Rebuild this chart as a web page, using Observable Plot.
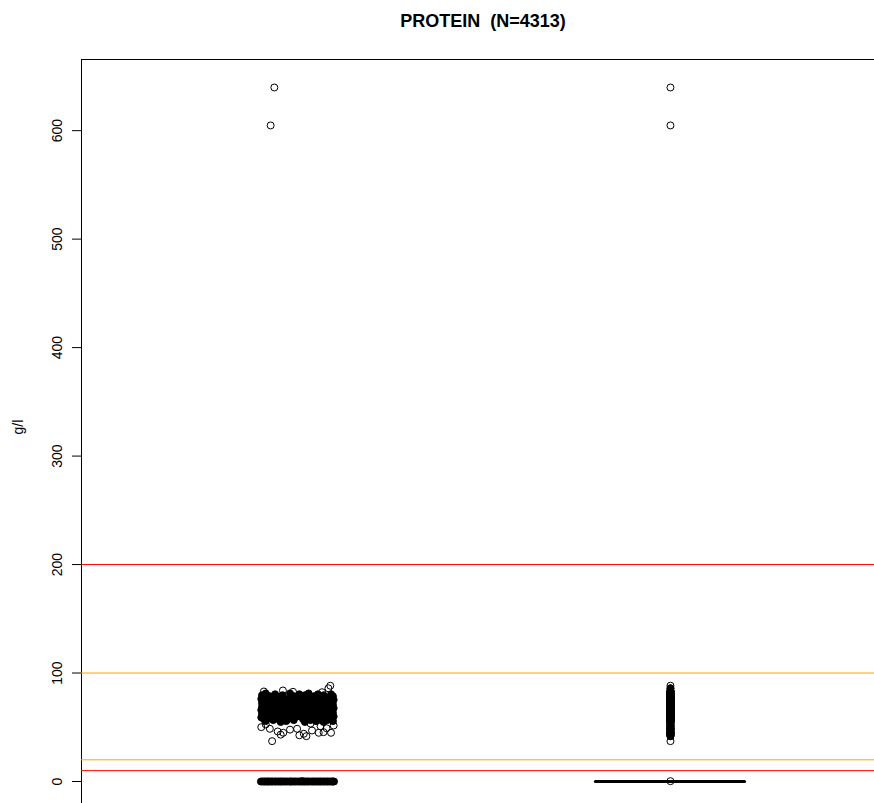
<!DOCTYPE html>
<html>
<head>
<meta charset="utf-8">
<script src="https://cdn.jsdelivr.net/npm/d3@7"></script>
<script src="https://cdn.jsdelivr.net/npm/@observablehq/plot@0.6"></script>
<style>
  html, body { margin: 0; padding: 0; background: #fff; overflow: hidden; }
  #wrap { position: relative; width: 874px; height: 803px; }
  #title { position: absolute; top: 11px; left: 483px; transform: translateX(-50%);
           font: bold 18px "Liberation Sans", Arial, sans-serif; white-space: pre; color: #000; }
</style>
</head>
<body>
<div id="wrap"><div id="title"></div></div>
<script>
// ---------------- data ----------------
const title = "PROTEIN  (N=4313)";
const yLabel = "g/l";
const yTicks = [0, 100, 200, 300, 400, 500, 600];
const redLimits = [10, 200];
const orangeLimits = [20, 100];
const groupPositions = [1, 2];          // 1 = jittered strip, 2 = boxplot
const boxQuartiles = [0, 0, 0];         // q1, median, q3

// jitter offsets of the (many) zero values
const zeroJitter = [-0.098, -0.094, -0.090, -0.087, -0.083, -0.080, -0.077, -0.073, -0.069,
  -0.066, -0.061, -0.058, -0.054, -0.050, -0.046, -0.043, -0.039, -0.035, -0.031, -0.027,
  -0.022, -0.019, -0.016, -0.012, -0.008, -0.004, 0.001, 0.005, 0.009, 0.013, 0.017, 0.020,
  0.024, 0.028, 0.032, 0.037, 0.041, 0.044, 0.048, 0.052, 0.056, 0.060, 0.063, 0.067, 0.071,
  0.075, 0.079, 0.082, 0.086, 0.090, 0.093, 0.096, 0.098];

// dense core: [value g/l, jitter]
const corePoints = [
  [81.2,-0.085],[81.2,-0.020],[81.2,0.030],
  [80.4,-0.060],[80.4,0.005],[80.4,0.055],[80.4,0.090],
  [79.5,-0.095],[79.5,-0.040],[79.5,0.020],[79.5,0.070],
  [78.7,-0.075],[78.7,-0.010],[78.7,0.045],[78.7,0.095],
  [77.8,-0.090],[77.8,-0.050],[77.8,0.000],[77.8,0.060],
  [77.0,-0.065],[77.0,-0.020],[77.0,0.035],[77.0,0.085],
  [76.1,-0.097],[76.1,-0.035],[76.1,0.015],[76.1,0.070],
  [75.3,-0.080],[75.3,-0.005],[75.3,0.050],[75.3,0.097],
  [74.4,-0.055],[74.4,-0.025],[74.4,0.025],[74.4,0.075],
  [73.6,-0.090],[73.6,-0.040],[73.6,0.010],[73.6,0.060],
  [72.7,-0.070],[72.7,0.000],[72.7,0.040],[72.7,0.090],
  [71.9,-0.095],[71.9,-0.030],[71.9,0.020],[71.9,0.065],
  [71.0,-0.060],[71.0,-0.010],[71.0,0.050],[71.0,0.095],
  [70.2,-0.085],[70.2,-0.045],[70.2,0.030],[70.2,0.075],
  [69.3,-0.070],[69.3,-0.020],[69.3,0.010],[69.3,0.055],
  [68.5,-0.095],[68.5,-0.035],[68.5,0.040],[68.5,0.085],
  [67.6,-0.055],[67.6,0.000],[67.6,0.060],[67.6,0.097],
  [66.8,-0.080],[66.8,-0.025],[66.8,0.025],[66.8,0.070],
  [65.9,-0.097],[65.9,-0.045],[65.9,0.015],[65.9,0.050],
  [65.1,-0.065],[65.1,-0.010],[65.1,0.035],[65.1,0.090],
  [64.2,-0.085],[64.2,-0.030],[64.2,0.045],[64.2,0.075],
  [63.4,-0.050],[63.4,0.005],[63.4,0.060],[63.4,0.095],
  [62.5,-0.095],[62.5,-0.040],[62.5,0.020],[62.5,0.065],
  [61.7,-0.070],[61.7,-0.015],[61.7,0.040],[61.7,0.085],
  [60.8,-0.085],[60.8,-0.035],[60.8,0.010],[60.8,0.055],
  [60.0,-0.060],[60.0,0.000],[60.0,0.070],[60.0,0.097],
  [59.1,-0.097],[59.1,-0.045],[59.1,0.030],[59.1,0.080],
  [58.3,-0.075],[58.3,-0.020],[58.3,0.045],[58.3,0.090],
  [57.4,-0.090],[57.4,-0.050],[57.4,0.015],[57.4,0.065],
  [56.6,-0.065],[56.6,-0.010],[56.6,0.035],[56.6,0.080],
  [55.7,-0.085],[55.7,-0.030],[55.7,0.050],[55.7,0.095],
  [54.9,-0.045],[54.9,0.020],[54.9,0.070]
];

// sparse fringe (open circles): [value g/l, jitter]
const fringePoints = [
  [88.3,0.088],[85.9,0.083],[83.9,-0.039],[83.0,-0.090],[82.7,-0.012],[82.3,0.066],
  [53.4,0.035],[52.6,-0.085],[51.6,0.097],[50.9,0.062],[50.1,-0.097],[49.1,0.078],
  [48.6,-0.074],[48.6,-0.001],[47.8,-0.020],[47.0,0.039],[46.1,-0.053],[45.5,0.070],
  [44.9,-0.038],[44.9,0.057],[44.9,0.090],[44.0,0.017],[43.2,-0.045],[42.6,0.005],
  [41.8,0.024],[37.2,-0.068]
];
const highPoints = [[604.8,-0.072],[639.8,-0.062]];
const nearZeroPoints = [[0.3,0.012]];

// ---------------- layout ----------------
const W = 874, H = 803;
const xDomain = [0.421, 2.547];
const yDomain = [-20.28, 665.6];
const boxHalf = 0.2;

document.getElementById("title").textContent = title;

const nonzero = [...corePoints, ...fringePoints, ...highPoints, ...nearZeroPoints];
const val = d => d[0];
const jit = d => groupPositions[0] + d[1];
// in the un-jittered outlier column the stacked circles overplot into a solid band
const ext = d3.extent([...corePoints, ...fringePoints], val);
const stacked = nonzero.filter(d => d[0] > ext[0] + 3 && d[0] < ext[1] - 1);

const chart = Plot.plot({
  width: W, height: H,
  marginTop: 59, marginBottom: 0, marginLeft: 81, marginRight: 0,
  x: {domain: xDomain, axis: null},
  y: {domain: yDomain, axis: null},
  style: {fontFamily: "'Liberation Sans', Arial, sans-serif", fontSize: "14px", color: "#000", background: "#fff"},
  marks: [
    // frame (top + left)
    Plot.ruleY([yDomain[1]], {stroke: "#000", strokeWidth: 1}),
    Plot.ruleX([xDomain[0]], {stroke: "#000", strokeWidth: 1}),
    Plot.axisY(yTicks, {anchor: "left", tickSize: 9, tickRotate: -90, tickPadding: 11,
      fontSize: 14, label: null, stroke: "#000"}),
    Plot.text([yLabel], {frameAnchor: "left", dx: -63, dy: 3, rotate: -90, fontSize: 14, fill: "#000"}),
    // jittered strip
    Plot.dot(zeroJitter, {x: d => groupPositions[0] + d, y: () => 0, r: 3.5, fill: "#000", stroke: "#000", strokeWidth: 1}),
    Plot.dot(corePoints, {x: jit, y: val, r: 3.5, fill: "#000", stroke: "#000", strokeWidth: 1}),
    Plot.dot([...fringePoints, ...highPoints, ...nearZeroPoints], {x: jit, y: val, r: 3.5, fill: "none", stroke: "#000", strokeWidth: 1}),
    // boxplot (collapsed at 0) with outliers
    Plot.ruleY([boxQuartiles[1]], {x1: groupPositions[1] - boxHalf, x2: groupPositions[1] + boxHalf, stroke: "#000", strokeWidth: 3, strokeLinecap: "round"}),
    Plot.dot(stacked, {x: () => groupPositions[1], y: val, r: 3.5, fill: "#000", stroke: "#000", strokeWidth: 1}),
    Plot.dot(nonzero, {x: () => groupPositions[1], y: val, r: 3.5, fill: "none", stroke: "#000", strokeWidth: 1}),
    // reference limits
    Plot.ruleY(redLimits, {stroke: "red", strokeWidth: 1}),
    Plot.ruleY(orangeLimits, {stroke: "orange", strokeWidth: 1})
  ]
});
document.getElementById("wrap").appendChild(chart);
</script>
</body>
</html>
